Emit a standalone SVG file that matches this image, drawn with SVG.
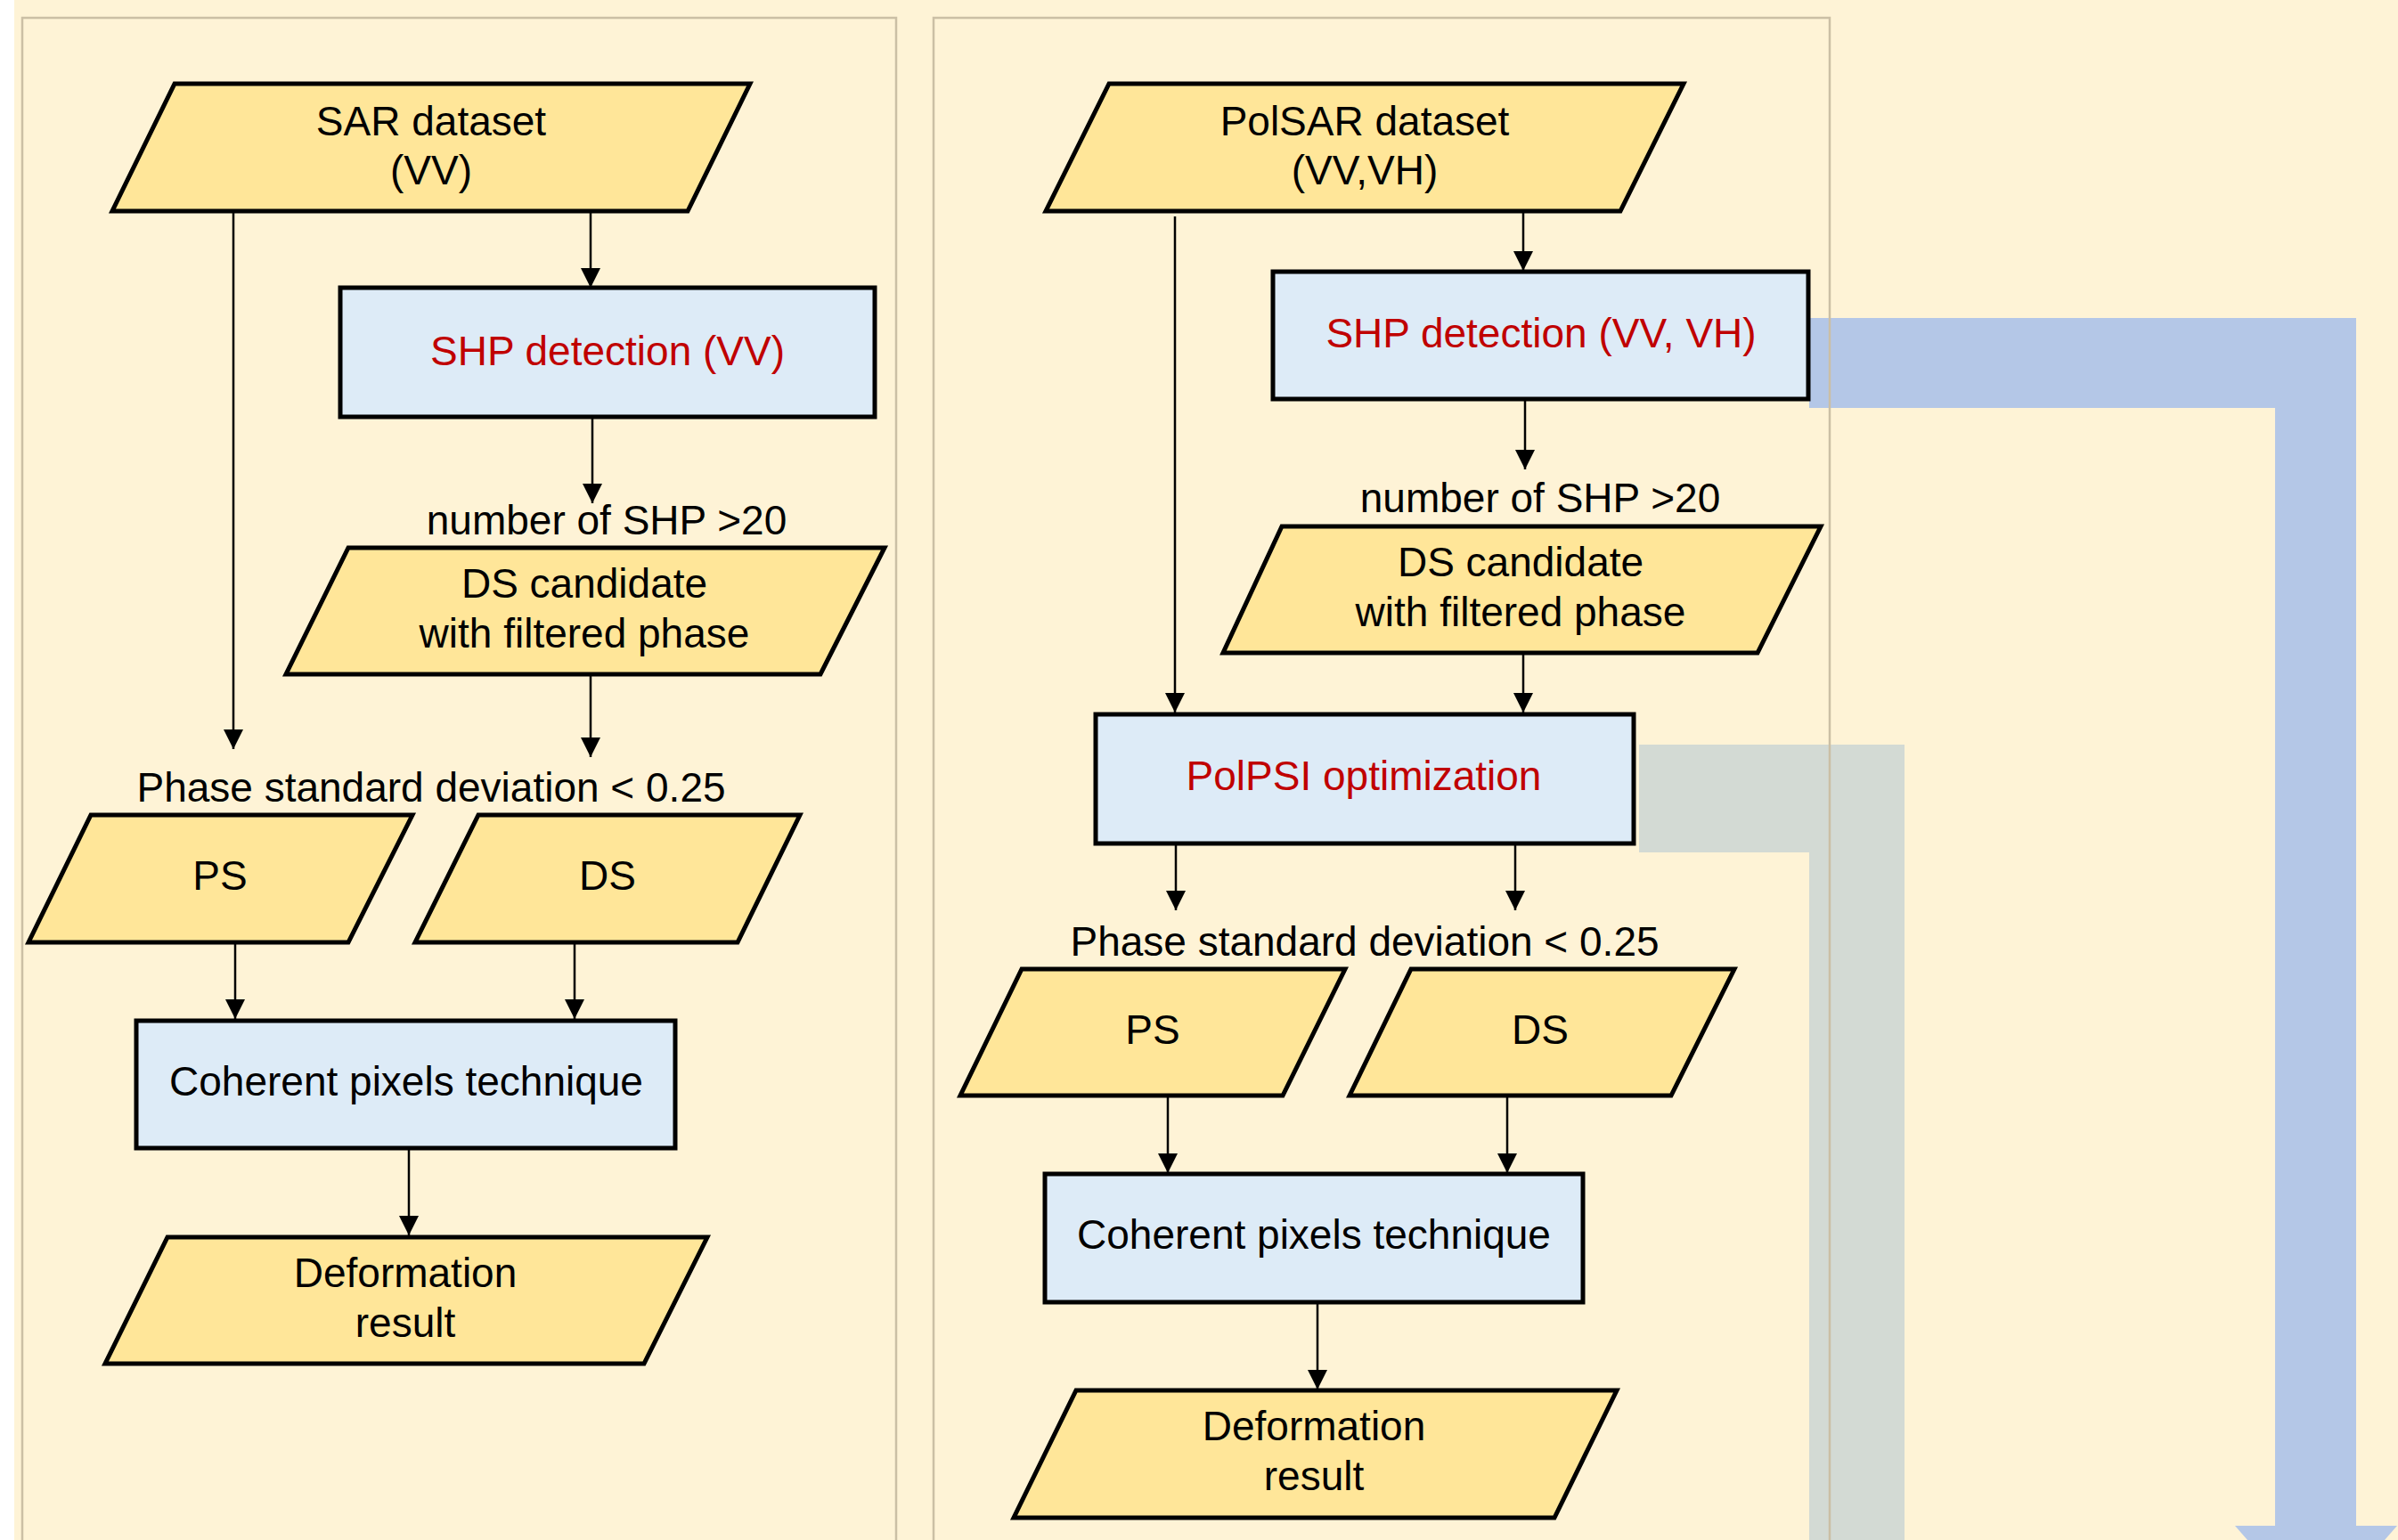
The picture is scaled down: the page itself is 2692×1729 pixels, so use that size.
<svg xmlns="http://www.w3.org/2000/svg" width="2692" height="1729" viewBox="0 0 2692 1729">
<defs>
<style>
.panel{fill:none;stroke:#CBBFA5;stroke-width:2.5}
.data{fill:#FFE699;stroke:#000;stroke-width:5;stroke-linejoin:miter}
.proc{fill:#DDEBF7;stroke:#000;stroke-width:5}
.t{font-family:"Liberation Sans",Arial,sans-serif;font-size:46px;fill:#000;text-anchor:middle}
.red{fill:#C00000}
.edge{stroke:#000;stroke-width:2.5;fill:none;marker-end:url(#arr)}
</style>
<marker id="arr" markerUnits="userSpaceOnUse" viewBox="0 0 22 22" markerWidth="22" markerHeight="22" refX="22" refY="11" orient="auto">
<path d="M0,0 L22,11 L0,22 Z" fill="#000"/>
</marker>
</defs>
<rect x="0" y="0" width="2692" height="1729" fill="#FFFFFF"/>
<rect x="16" y="0" width="2676" height="1729" fill="#FEF3D6"/>
<g id="bands">
<polygon points="2031,357 2645,357 2645,1713 2691,1713 2600,1817 2509,1713 2554,1713 2554,458 2031,458" fill="#B4C7E7"/>
<polygon points="1840,836 2138,836 2138,1740 2031,1740 2031,957 1840,957" fill="#D3DAD4"/>
</g>
<g id="panels">
<rect class="panel" x="25" y="20" width="981" height="1730"/>
<rect class="panel" x="1048" y="20" width="1006" height="1730"/>
</g>
<g id="connectors">
<line class="edge" x1="262" y1="237" x2="262" y2="841"/>
<line class="edge" x1="663" y1="237" x2="663" y2="323"/>
<line class="edge" x1="665" y1="468" x2="665" y2="565"/>
<line class="edge" x1="663" y1="757" x2="663" y2="850"/>
<line class="edge" x1="264" y1="1058" x2="264" y2="1144"/>
<line class="edge" x1="645" y1="1058" x2="645" y2="1144"/>
<line class="edge" x1="459" y1="1289" x2="459" y2="1387"/>
<line class="edge" x1="1319" y1="243" x2="1319" y2="800"/>
<line class="edge" x1="1710" y1="237" x2="1710" y2="304"/>
<line class="edge" x1="1712" y1="448" x2="1712" y2="527"/>
<line class="edge" x1="1710" y1="733" x2="1710" y2="800"/>
<line class="edge" x1="1320" y1="947" x2="1320" y2="1022"/>
<line class="edge" x1="1701" y1="947" x2="1701" y2="1022"/>
<line class="edge" x1="1311" y1="1230" x2="1311" y2="1317"/>
<line class="edge" x1="1692" y1="1230" x2="1692" y2="1317"/>
<line class="edge" x1="1479" y1="1462" x2="1479" y2="1560"/>
</g>
<g id="labels">
<text class="t" x="681" y="600">number of SHP &gt;20</text>
<text class="t" x="484" y="900">Phase standard deviation &lt; 0.25</text>
<text class="t" x="1729" y="575">number of SHP &gt;20</text>
<text class="t" x="1532" y="1073">Phase standard deviation &lt; 0.25</text>
</g>
<g id="sar-dataset">
<polygon class="data" points="196,94 842,94 772,237 126,237"/>
<text class="t" x="484" y="152">SAR dataset</text>
<text class="t" x="484" y="207">(VV)</text>
</g>
<g id="shp-vv">
<rect class="proc" x="382" y="323" width="600" height="145"/>
<text class="t red" x="682" y="410">SHP detection (VV)</text>
</g>
<g id="ds-candidate-left">
<polygon class="data" points="391,615 993,615 921,757 321,757"/>
<text class="t" x="656" y="671">DS candidate</text>
<text class="t" x="656" y="727">with filtered phase</text>
</g>
<g id="ps-left">
<polygon class="data" points="102,915 463,915 391,1058 32,1058"/>
<text class="t" x="247" y="999">PS</text>
</g>
<g id="ds-left">
<polygon class="data" points="537,915 898,915 828,1058 466,1058"/>
<text class="t" x="682" y="999">DS</text>
</g>
<g id="coherent-left">
<rect class="proc" x="153" y="1146" width="605" height="143"/>
<text class="t" x="456" y="1230">Coherent pixels technique</text>
</g>
<g id="deformation-left">
<polygon class="data" points="188,1389 794,1389 723,1531 118,1531"/>
<text class="t" x="455" y="1445">Deformation</text>
<text class="t" x="455" y="1501">result</text>
</g>
<g id="polsar-dataset">
<polygon class="data" points="1245,94 1890,94 1819,237 1174,237"/>
<text class="t" x="1532" y="152">PolSAR dataset</text>
<text class="t" x="1532" y="207">(VV,VH)</text>
</g>
<g id="shp-vv-vh">
<rect class="proc" x="1429" y="305" width="601" height="143"/>
<text class="t red" x="1730" y="390">SHP detection (VV, VH)</text>
</g>
<g id="ds-candidate-right">
<polygon class="data" points="1439,591 2044,591 1973,733 1373,733"/>
<text class="t" x="1707" y="647">DS candidate</text>
<text class="t" x="1707" y="703">with filtered phase</text>
</g>
<g id="polpsi">
<rect class="proc" x="1230" y="802" width="604" height="145"/>
<text class="t red" x="1531" y="887">PolPSI optimization</text>
</g>
<g id="ps-right">
<polygon class="data" points="1147,1088 1510,1088 1440,1230 1078,1230"/>
<text class="t" x="1294" y="1172">PS</text>
</g>
<g id="ds-right">
<polygon class="data" points="1584,1088 1947,1088 1876,1230 1515,1230"/>
<text class="t" x="1729" y="1172">DS</text>
</g>
<g id="coherent-right">
<rect class="proc" x="1173" y="1318" width="604" height="144"/>
<text class="t" x="1475" y="1402">Coherent pixels technique</text>
</g>
<g id="deformation-right">
<polygon class="data" points="1208,1561 1815,1561 1745,1704 1138,1704"/>
<text class="t" x="1475" y="1617">Deformation</text>
<text class="t" x="1475" y="1673">result</text>
</g>
</svg>
